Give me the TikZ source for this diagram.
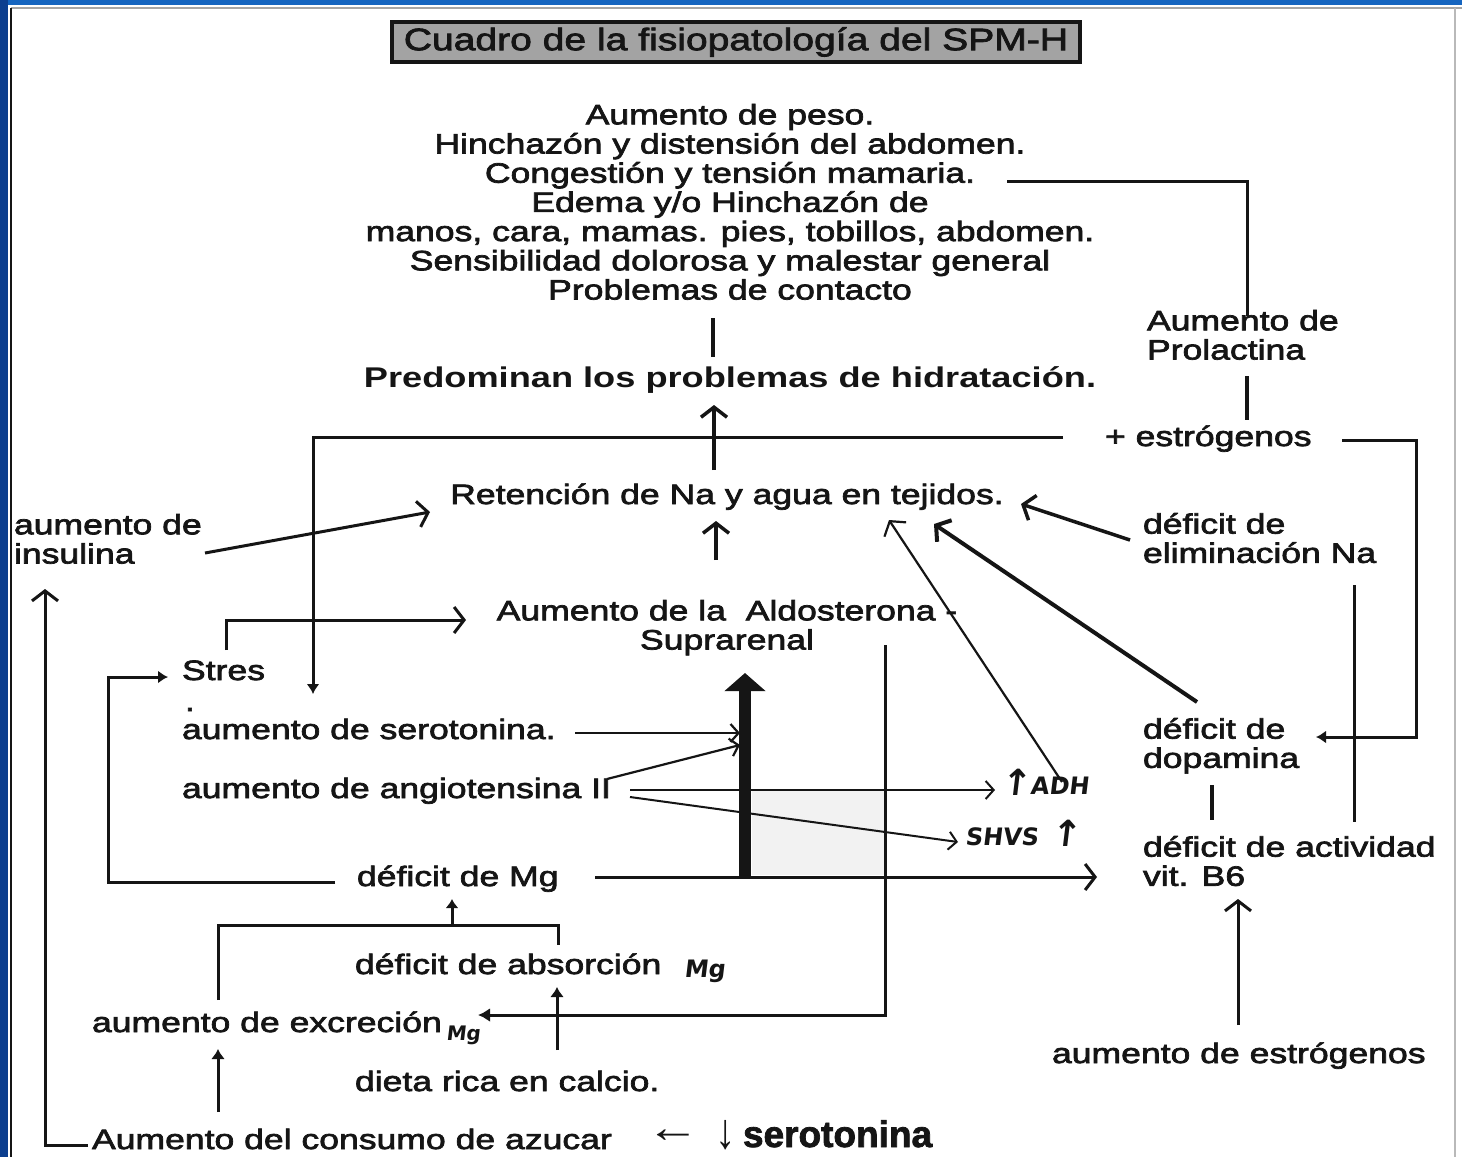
\documentclass[tikz,border=0pt]{standalone}
\usepackage{graphicx}
\usepackage{fontspec}
\setmainfont{Liberation Sans}[FakeStretch=1.27,UprightFeatures={FakeBold=2.5}]
\newfontfamily\titlefont{Liberation Sans}[FakeStretch=1.26,FakeBold=2.5]
\newfontfamily\serofont{Liberation Sans}[BoldFeatures={FakeBold=2}]
\newfontfamily\arrowfont{Liberation Serif}
\newfontfamily\handfont{DejaVu Sans}[FakeSlant=0.12]
\usetikzlibrary{arrows.meta}
\definecolor{frameblue}{HTML}{1565C0}
\definecolor{framedark}{HTML}{0C3F8F}
\definecolor{titlegray}{HTML}{A3A3A3}
\definecolor{ink}{HTML}{151515}
\newcommand{\bigup}{\raisebox{-1pt}{\scalebox{1.5}{↑}}}
\begin{document}
\begin{tikzpicture}[x=1pt,y=-1pt,
  every node/.style={inner sep=0pt,outer sep=0pt,text=ink},
  txt/.style={font=\fontsize{28}{29.2}\selectfont},
  txtb/.style={font=\fontsize{28.5}{30}\selectfont\bfseries},
  hand/.style={font=\handfont\bfseries\fontsize{24}{26}\selectfont},
  ln/.style={line width=3pt,draw=ink},
  arr/.style={ln,-{Straight Barb[length=10pt,width=26pt]}},
  sarr/.style={line width=2.2pt,draw=ink,-{Straight Barb[length=8pt,width=18pt]}},
  farr/.style={ln,-{Latex[length=10pt,width=13pt]}}]
\useasboundingbox (0,0) rectangle (1462,1157);
% background and frame
\fill[frameblue] (0,0) rectangle (1462,1157);
\fill[framedark] (0,0) rectangle (8,1157);
\fill[white] (8,5) rectangle (1462,1157);
\draw[gray!70,line width=1.5pt] (11,8) -- (1462,8);
\draw[ink,line width=2pt] (11,8) -- (11,1157);
\draw[gray!55,line width=1.5pt] (1455,8) -- (1455,1157);
% faint shaded area
\fill[gray!10] (752,790) rectangle (885,875);

% title
\node[draw=ink,line width=3.5pt,fill=titlegray,minimum width=688pt,minimum height=40pt,
      font=\titlefont\fontsize{31}{33}\selectfont] (title) at (736,42)
      {Cuadro de la fisiopatología del SPM-H};

% nodes
\node[txt,align=center,anchor=north] (sym) at (730,104)
  {Aumento de peso.\\ Hinchazón y distensión del abdomen.\\ Congestión y tensión mamaria.\\
   Edema y/o Hinchazón de\\ manos, cara, mamas. pies, tobillos, abdomen.\\
   Sensibilidad dolorosa y malestar general\\ Problemas de contacto};
\node[txtb,anchor=base] (pred) at (730,387) {Predominan los problemas de hidratación.};
\node[txt,align=left,anchor=north west] (prol) at (1147,310) {Aumento de\\Prolactina};
\node[txt,anchor=base west] (estr) at (1105,446) {+ estrógenos};
\node[txt,anchor=base] (ret) at (727,504) {Retención de Na y agua en tejidos.};
\node[txt,align=left,anchor=north west] (ins) at (14,514) {aumento de\\insulina};
\node[txt,align=left,anchor=north west] (elim) at (1143,513) {déficit de\\eliminación Na};
\node[txt,align=center,anchor=north] (aldo) at (727,600) {Aumento de la\ \ Aldosterona -\\Suprarenal};
\node[txt,anchor=base west] (stres) at (182,680) {Stres};
\node[txt,anchor=base west] (dot) at (185,711) {.};
\node[txt,anchor=base west] (sero) at (182,739) {aumento de serotonina.};
\node[txt,anchor=base west] (angio) at (182,798) {aumento de angiotensina II};
\node[txt,align=left,anchor=north west] (dopa) at (1143,718) {déficit de\\dopamina};
\node[hand,anchor=base west] (adh) at (1000,794) {\bigup ADH};
\node[hand,anchor=base west] (shvs) at (965,845) {SHVS\hspace{12pt}\bigup};
\node[txt,align=left,anchor=north west] (b6) at (1143,836) {déficit de actividad\\vit. B6};
\node[txt,anchor=base west] (mg) at (357,886) {déficit de Mg};
\node[txt,anchor=base west] (abs) at (355,974) {déficit de absorción};
\node[hand,anchor=base west] (absmg) at (684,977) {Mg};
\node[txt,anchor=base west] (exc) at (92,1032) {aumento de excreción};
\node[hand,anchor=base west,font=\handfont\bfseries\fontsize{20}{22}\selectfont] (excmg) at (446,1040) {Mg};
\node[txt,anchor=base west] (dieta) at (355,1091) {dieta rica en calcio.};
\node[txt,anchor=base west] (azu) at (92,1149) {Aumento del consumo de azucar};
\node[txt,anchor=base west] (estro2) at (1052,1063) {aumento de estrógenos};
\node[anchor=base west,font=\serofont\fontsize{37}{40}\selectfont] (serodown) at (646,1147)
  {\makebox[69pt][l]{\raisebox{5pt}{\arrowfont\scalebox{1.45}[1.2]{←}}}%
   \makebox[28pt][l]{\raisebox{-1pt}{\arrowfont\scalebox{1.1}[1.35]{↓}}}%
   \textbf{serotonina}};

% connector end points
\coordinate (congE) at (1007,181);
\coordinate (prolT) at (1247,316);
\coordinate (prolB) at (1247,376);
\coordinate (estrT) at (1247,420);
\coordinate (symB) at (713,318);
\coordinate (predT) at (713,357);
\coordinate (predB) at (714,405);
\coordinate (retT) at (714,470);
\coordinate (estrW) at (1063,437);
\coordinate (serT) at (313,694);
\coordinate (estrE) at (1342,440);
\coordinate (rc) at (1416,737);
\coordinate (dopaE) at (1316,737);
\coordinate (retB) at (716,521);
\coordinate (aldoT) at (716,560);
\coordinate (insE) at (205,553);
\coordinate (retW) at (430,512);
\coordinate (stresUp) at (226,650);
\coordinate (aldoW) at (466,620);
\coordinate (mgW) at (335,882);
\coordinate (lc) at (108,677);
\coordinate (stresW) at (168,677);
\coordinate (thickB) at (745,876);
\coordinate (thickT) at (745,673);
\coordinate (seroE) at (575,733);
\coordinate (thickL1) at (740,733);
\coordinate (angE1) at (607,779);
\coordinate (thickL2) at (740,745);
\coordinate (angE2) at (630,790);
\coordinate (adhW) at (995,790);
\coordinate (angE3) at (630,797);
\coordinate (shvsW) at (958,842);
\coordinate (aldoV) at (885,645);
\coordinate (excE) at (478,1015);
\coordinate (adhT) at (1062,782);
\coordinate (retA) at (889,520);
\coordinate (dopaT) at (1197,702);
\coordinate (retB2) at (934,524);
\coordinate (elimW) at (1130,540);
\coordinate (retE) at (1021,504);
\coordinate (dopaB) at (1212,785);
\coordinate (b6T) at (1212,820);
\coordinate (vlT) at (1354,585);
\coordinate (vlB) at (1354,822);
\coordinate (estro2T) at (1238,1025);
\coordinate (b6B) at (1238,899);
\coordinate (mgE) at (595,877);
\coordinate (b6W) at (1097,877);
\coordinate (excT) at (218,1000);
\coordinate (j1) at (218,925);
\coordinate (j2) at (558,925);
\coordinate (absT) at (558,945);
\coordinate (jm) at (452,925);
\coordinate (mgB) at (452,899);
\coordinate (dietaT) at (557,1050);
\coordinate (absB) at (557,987);
\coordinate (azuT) at (218,1112);
\coordinate (excB) at (218,1049);
\coordinate (azuW) at (88,1145);
\coordinate (insB) at (45,589);

% connectors
\draw[ln] (congE) -| (prolT);
\draw[ln,line width=3.5pt] (prolB) -- (estrT);
\draw[ln,line width=3.5pt] (symB) -- (predT);
\draw[arr,line width=3.5pt] (retT) -- (predB);
\draw[ln,-{Latex[length=10pt,width=13pt]}] (estrW) -| (serT);
\draw[ln,-{Latex[length=10pt,width=13pt]}] (estrE) -| (rc) -- (dopaE);
\draw[arr,line width=3.5pt] (aldoT) -- (retB);
\draw[arr] (insE) -- (retW);
\draw[arr] (stresUp) |- (aldoW);
\draw[farr] (mgW) -| (lc) -- (stresW);
\draw[line width=12pt,draw=ink,-{Triangle[length=18pt,width=40pt]}] (thickB) -- (thickT);
\draw[sarr] (seroE) -- (thickL1);
\draw[sarr] (angE1) -- (thickL2);
\draw[sarr,line width=2pt] (angE2) -- (adhW);
\draw[sarr,line width=2pt] (angE3) -- (shvsW);
\draw[farr,-{Latex[length=12pt,width=14pt]}] (aldoV) |- (excE);
\draw[arr,line width=2.2pt] (adhT) -- (retA);
\draw[arr,line width=4pt] (dopaT) -- (retB2);
\draw[arr,line width=3.5pt] (elimW) -- (retE);
\draw[ln,line width=3.5pt] (dopaB) -- (b6T);
\draw[ln] (vlT) -- (vlB);
\draw[arr] (estro2T) -- (b6B);
\draw[arr] (mgE) -- (b6W);
\draw[ln] (excT) -- (j1) -- (j2) -- (absT);
\draw[farr,-{Latex[length=9pt,width=13pt]}] (jm) -- (mgB);
\draw[farr,-{Latex[length=10pt,width=14pt]}] (dietaT) -- (absB);
\draw[farr,-{Latex[length=10pt,width=14pt]}] (azuT) -- (excB);
\draw[arr] (azuW) -| (insB);
\end{tikzpicture}
\end{document}
